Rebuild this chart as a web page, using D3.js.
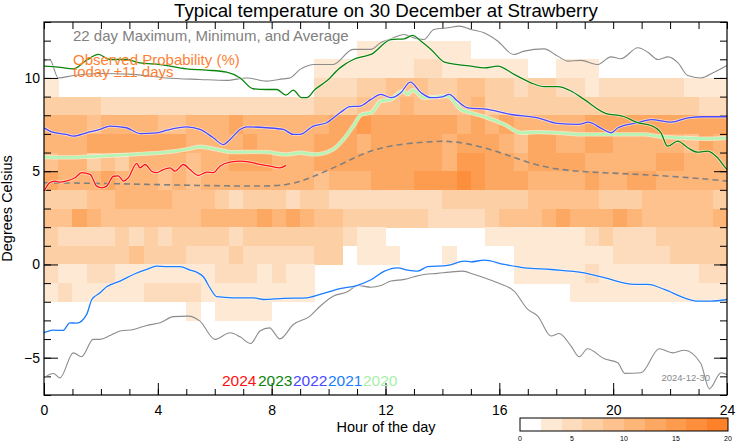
<!DOCTYPE html>
<html>
<head>
<meta charset="utf-8">
<script src="https://cdnjs.cloudflare.com/ajax/libs/d3/7.8.5/d3.min.js"></script>
<style>
  body { margin: 0; background: #fff; }
  text { font-family: "Liberation Sans", Arial, Helvetica, sans-serif; }
</style>
</head>
<body>
<div class="canvas"></div>
<script>
// observed probability, one string per 1-degree bin (bottom of bin), one char per half hour
// each char is the 2% band index (0 = under 2%, 9 = 18-20%)
const probBins = [11, 10, 9, 8, 7, 6, 5, 4, 3, 2, 1, 0, -1, -2, -3];
const probBands = [
    "000000000000000000000011111111000000000000000000",
    "000000000000000000011111112211111100111000000000",
    "100000000000000000022233444334433233221222222111",
    "333322222222222222233344454444533333333333333322",
    "555455554455565555556676666665656555556666666666",
    "555666666655556555566656666656665466556655555465",
    "455343555545566655566666666657766566665555566555",
    "655565554545555555545556667778766655556556655555",
    "333445555444323332332222222233333344444333444443",
    "446544444445555656544333333222234445655565444445",
    "322223232333323333333211000000011111112322233333",
    "333333433322232222233011100010000111111122223333",
    "211221111111222121100000000000000111112111111122",
    "121111122221111111100000000000000000011111111111",
    "000000000010111100000000000000000000000000000000"
];
const legendTicks = [0, 5, 10, 15, 20];

// 22 day maximum, minimum, average  [hour, degrees]
const max22 = [[0, 10.9], [0.2, 11.0], [0.5, 10.0], [1.03, 10.13], [1.97, 10.24], [3.13, 10.19], [4.3, 10.0],
    [5.48, 9.92], [6.42, 9.87], [7.12, 10.0], [7.82, 9.83], [8.4, 9.95], [8.64, 10.0], [9.0, 10.46], [9.52, 10.72],
    [10.16, 10.72], [10.86, 11.53], [11.49, 11.53], [11.84, 11.9], [12.2, 12.1], [12.65, 12.33], [13.0, 12.15],
    [13.35, 12.06], [13.7, 12.6], [14.2, 12.69], [14.6, 12.78], [15.0, 12.6], [15.46, 12.42], [15.95, 11.97],
    [16.5, 11.26], [16.87, 11.44], [17.57, 11.56], [18.05, 11.17], [18.41, 10.9], [18.87, 10.94], [19.46, 10.72],
    [19.92, 11.13], [20.27, 11.03], [20.87, 11.62], [21.22, 11.38], [21.57, 10.99], [21.93, 11.13], [22.28, 10.81],
    [22.62, 10.13], [23.08, 10.0], [23.55, 10.31], [24, 10.67]];
const min22 = [[0, -6.08], [0.33, -5.85], [0.56, -6.08], [1.03, -4.74], [1.32, -4.95], [1.73, -4.02], [1.97, -4.02],
    [2.32, -3.81], [2.67, -3.57], [3.14, -3.49], [3.61, -3.27], [4.08, -3.13], [4.54, -2.8], [5.07, -2.77],
    [5.48, -3.04], [6.01, -4.02], [6.54, -3.66], [6.89, -3.88], [7.26, -4.24], [7.59, -3.57], [7.92, -3.4],
    [8.29, -3.99], [8.76, -3.22], [9.35, -2.77], [9.7, -2.24], [10.16, -1.7], [10.64, -1.48], [11.04, -1.13],
    [11.49, -1.22], [11.84, -1.13], [12.19, -0.89], [12.66, -0.8], [13.0, -0.66], [13.36, -0.54], [13.83, -0.48],
    [14.24, -0.41], [14.71, -0.36], [15.12, -0.54], [15.47, -0.71], [15.94, -0.98], [16.52, -1.43], [17.0, -2.41],
    [17.35, -2.77], [17.82, -3.84], [18.1, -3.7], [18.52, -4.38], [18.81, -4.95], [19.1, -4.52], [19.69, -5.06],
    [20.16, -5.27], [20.41, -5.84], [20.98, -5.81], [21.62, -4.52], [22.09, -4.74], [22.5, -4.6], [23.08, -5.31],
    [23.38, -6.67], [23.79, -5.81], [24, -5.9]];
const avg22 = [[0, 4.38], [2, 4.35], [4, 4.28], [6, 4.22], [7.2, 4.2], [8.6, 4.2], [9.5, 4.73], [10.5, 5.4],
    [11.49, 6.17], [12.65, 6.49], [13.83, 6.61], [14.4, 6.61], [15.35, 6.34], [16.4, 5.81], [17.35, 5.27],
    [18.52, 5.0], [19.69, 4.92], [20.86, 4.83], [22.03, 4.73], [23.2, 4.59], [24, 4.47]];

// individual years
const years = ["2024", "2023", "2022", "2021", "2020"];
const yearColors = ["#ff1010", "#0a840a", "#4848ff", "#1a7cff", "#b4f5b4"];
const y2024 = [[0, 3.93], [0.2, 4.38], [0.37, 4.47], [0.56, 4.41], [0.78, 4.47], [1.09, 4.65], [1.32, 4.92],
    [1.62, 4.83], [1.85, 4.2], [2.03, 4.11], [2.2, 4.2], [2.44, 4.73], [2.61, 4.75], [2.79, 4.47], [2.96, 4.65],
    [3.26, 5.42], [3.37, 5.18], [3.55, 5.36], [3.78, 5.0], [3.96, 4.92], [4.19, 5.09], [4.43, 5.18], [4.6, 5.0],
    [4.9, 5.36], [5.13, 5.09], [5.42, 4.77], [5.72, 4.95], [5.95, 4.92], [6.18, 5.27], [6.54, 5.49], [6.89, 5.54],
    [7.24, 5.49], [7.59, 5.36], [7.94, 5.27], [8.29, 5.18], [8.5, 5.31]];
const y2023 = [[0, 10.63], [0.5, 10.58], [1.03, 10.49], [1.5, 10.96], [1.91, 11.26], [2.32, 10.99], [2.9, 10.99],
    [3.37, 10.81], [4.08, 10.72], [5.01, 10.49], [5.72, 10.42], [6.42, 10.31], [6.89, 10.0], [7.35, 9.42],
    [7.82, 9.38], [8.18, 9.38], [8.5, 9.08], [8.76, 9.35], [9.05, 8.94], [9.23, 8.94], [9.52, 9.38], [9.93, 9.83],
    [10.4, 10.54], [10.87, 10.99], [11.16, 11.13], [11.49, 11.26], [12.19, 12.06], [12.66, 12.1], [12.95, 12.28],
    [13.25, 11.97], [13.6, 11.53], [14.07, 10.85], [14.54, 10.72], [15.0, 10.63], [15.47, 10.54], [15.94, 10.63],
    [16.52, 10.19], [17.11, 9.74], [17.58, 9.53], [18.05, 9.53], [18.52, 9.3], [18.98, 8.85], [19.69, 8.13],
    [20.39, 7.92], [20.86, 7.6], [21.33, 7.45], [21.68, 7.06], [21.91, 6.34], [22.27, 6.61], [22.62, 6.26],
    [22.97, 6.02], [23.32, 6.08], [23.67, 5.72], [23.9, 5.27], [24, 5.09]];
const y2022 = [[0, 7.33], [0.3, 7.09], [0.78, 6.97], [1.03, 6.88], [1.5, 7.06], [1.97, 7.24], [2.32, 7.42],
    [2.9, 7.33], [3.37, 7.02], [3.96, 7.06], [4.31, 7.2], [5.01, 7.38], [5.48, 7.24], [5.95, 6.79], [6.3, 6.43],
    [6.54, 6.7], [6.89, 7.24], [7.12, 7.38], [7.82, 7.33], [8.41, 7.24], [8.76, 6.97], [8.99, 6.97], [9.46, 7.42],
    [9.93, 7.6], [10.4, 8.13], [10.75, 8.46], [11.1, 8.49], [11.49, 8.85], [11.84, 9.12], [12.19, 8.94],
    [12.54, 9.21], [12.87, 9.78], [13.25, 9.21], [13.6, 8.94], [14.0, 8.99], [14.24, 9.12], [14.53, 8.76],
    [14.89, 8.4], [15.59, 8.31], [16.41, 8.04], [17.35, 7.86], [18.05, 7.56], [18.77, 7.51], [19.13, 7.63],
    [19.6, 7.28], [19.93, 7.06], [20.17, 7.33], [20.87, 7.6], [21.34, 7.77], [22.04, 7.63], [22.63, 7.86],
    [23.21, 7.92], [24, 7.92]];
const y2021 = [[0, -3.66], [0.32, -3.52], [0.67, -3.54], [0.91, -3.13], [1.15, -3.15], [1.5, -2.68], [1.68, -1.88],
    [1.97, -1.52], [2.2, -1.2], [2.67, -0.89], [3.14, -0.54], [3.61, -0.27], [3.96, -0.09], [4.31, -0.12],
    [4.78, -0.12], [5.13, -0.3], [5.36, -0.41], [5.6, -0.66], [5.83, -1.25], [6.07, -1.73], [6.65, -1.79],
    [7.35, -1.79], [7.71, -1.88], [8.41, -1.82], [9.23, -1.79], [9.7, -1.61], [10.4, -1.3], [10.99, -1.13],
    [11.49, -0.82], [11.96, -0.36], [12.43, -0.18], [12.78, -0.3], [13.13, -0.36], [13.48, -0.12], [14.18, -0.05],
    [14.77, 0.18], [15.0, 0.14], [15.47, 0.23], [16.17, 0.0], [16.88, -0.18], [17.82, -0.27], [18.98, -0.45],
    [19.69, -0.71], [20.74, -1.07], [21.22, -1.07], [21.8, -1.34], [22.5, -1.79], [22.97, -1.97], [23.44, -1.97],
    [24, -1.88]];
const y2020 = [[0, 5.75], [0.78, 5.74], [1.97, 5.81], [3.14, 5.9], [4.31, 6.02], [5.01, 6.17], [5.48, 6.31],
    [6.07, 6.17], [6.65, 6.02], [7.35, 6.04], [7.82, 6.02], [8.53, 5.9], [9.0, 5.99], [9.52, 5.9], [10.16, 6.17],
    [10.52, 6.7], [10.87, 7.42], [11.16, 8.04], [11.49, 8.13], [11.84, 8.76], [12.19, 8.85], [12.6, 9.29],
    [12.78, 9.12], [12.95, 9.35], [13.36, 8.94], [13.83, 8.99], [14.18, 9.03], [14.65, 8.31], [15.0, 8.13],
    [15.59, 7.86], [16.17, 7.51], [16.76, 7.06], [17.35, 7.09], [18.05, 7.06], [18.98, 6.97], [20.17, 6.97],
    [21.09, 6.97], [21.68, 6.85], [22.5, 6.79], [23.21, 6.74], [24, 6.79]];
const yearSeries = [y2024, y2023, y2022, y2021, y2020];

const width = 742, height = 445;
const margin = { left: 44, right: 15, top: 22, bottom: 50 };
const plot = { width: width - margin.left - margin.right, height: height - margin.top - margin.bottom };

const svg = d3.select(".canvas").append("svg")
    .attr("width", width)
    .attr("height", height);

const x = d3.scaleLinear().domain([0, 24]).range([margin.left, margin.left + plot.width]);
const y = d3.scaleLinear().domain([-7, 13]).range([margin.top + plot.height, margin.top]);

const bandColors = ["#ffffff", "#fee9d4", "#fddcbd", "#fdcfa5", "#fdc28e", "#fdb578", "#fda862", "#fd9b4e", "#fd8e3b", "#fd8128"];
const color = d3.scaleThreshold().domain(d3.range(2, 20, 2)).range(bandColors);

// heat cells
const cells = [];
probBands.forEach((row, r) => {
    row.split("").forEach((c, i) => {
        const p = +c * 2 + 1;
        if (+c > 0) cells.push({ hour: i * 0.5, bin: probBins[r], p: p });
    });
});
svg.append("g").selectAll("rect").data(cells).enter().append("rect")
    .attr("x", d => x(d.hour))
    .attr("y", d => y(d.bin + 1))
    .attr("width", d => x(d.hour + 0.5) - x(d.hour) + 0.5)
    .attr("height", d => y(d.bin) - y(d.bin + 1) + 0.5)
    .attr("fill", d => color(d.p))
    .attr("shape-rendering", "crispEdges");

// axes
const axisStyle = (g) => {
    g.select(".domain").remove();
    g.selectAll("line").attr("stroke", "#000");
    g.selectAll("text").attr("font-size", 14).attr("fill", "#000");
};
const yb = margin.top + plot.height, xr = margin.left + plot.width;
svg.append("g").attr("transform", `translate(0,${yb})`)
    .call(d3.axisBottom(x).tickValues(d3.range(0, 25, 1)).tickSize(-6).tickFormat("")).call(axisStyle);
svg.append("g").attr("transform", `translate(0,${yb})`)
    .call(d3.axisBottom(x).tickValues(d3.range(0, 25, 4)).tickSize(-12).tickPadding(10).tickFormat(d3.format("d"))).call(axisStyle);
svg.append("g").attr("transform", `translate(0,${margin.top})`)
    .call(d3.axisTop(x).tickValues(d3.range(0, 25, 1)).tickSize(-7).tickFormat("")).call(axisStyle);
svg.append("g").attr("transform", `translate(${margin.left},0)`)
    .call(d3.axisLeft(y).tickValues(d3.range(-7, 14, 1)).tickSize(-7).tickFormat("")).call(axisStyle);
svg.append("g").attr("transform", `translate(${margin.left},0)`)
    .call(d3.axisLeft(y).tickValues([-5, 0, 5, 10]).tickSize(-14).tickPadding(4).tickFormat(d => d < 0 ? "\u2212" + (-d) : d)).call(axisStyle);
svg.append("g").attr("transform", `translate(${xr},0)`)
    .call(d3.axisRight(y).tickValues(d3.range(-7, 14, 1)).tickSize(-7).tickFormat("")).call(axisStyle);
svg.append("g").attr("transform", `translate(${xr},0)`)
    .call(d3.axisRight(y).tickValues([-5, 0, 5, 10]).tickSize(-13).tickFormat("")).call(axisStyle);

// gray envelope
const line = d3.line().x(d => x(d[0])).y(d => y(d[1])).curve(d3.curveMonotoneX);
[max22, min22].forEach(s => {
    svg.append("path").datum(s).attr("d", line)
        .attr("fill", "none").attr("stroke", "#8c8c8c").attr("stroke-width", 1.1);
});
svg.append("path").datum(avg22).attr("d", d3.line().x(d => x(d[0])).y(d => y(d[1])).curve(d3.curveBasis))
    .attr("fill", "none").attr("stroke", "#808080").attr("stroke-width", 1.6).attr("stroke-dasharray", "6,4");

// years, 2020 at bottom
yearSeries.slice().reverse().forEach((s, k) => {
    const i = yearSeries.length - 1 - k;
    const w = years[i] === "2020" ? 2.8 : 1.3;
    svg.append("path").datum(s).attr("d", line)
        .attr("fill", "none").attr("stroke", "#fff").attr("stroke-opacity", 0.6).attr("stroke-width", w + 1.5);
    svg.append("path").datum(s).attr("d", line)
        .attr("fill", "none").attr("stroke", yearColors[i]).attr("stroke-width", w);
});

// frame
svg.append("rect").attr("x", margin.left).attr("y", margin.top)
    .attr("width", plot.width).attr("height", plot.height)
    .attr("fill", "none").attr("stroke", "#000").attr("stroke-width", 1.2);

// texts
svg.append("text").attr("x", 386).attr("y", 17).attr("text-anchor", "middle")
    .attr("font-size", 18.7).text("Typical temperature on 30 December at Strawberry");
svg.append("text").attr("x", 73).attr("y", 41).attr("font-size", 15).attr("fill", "#808080")
    .text("22 day Maximum, Minimum, and Average");
svg.append("text").attr("x", 73).attr("y", 65).attr("font-size", 15).attr("fill", "#ff7f32")
    .text("Observed Probability (%)");
svg.append("text").attr("x", 73).attr("y", 77).attr("font-size", 15).attr("fill", "#ff7f32")
    .text("today \u00b111 days");
svg.append("text").attr("x", 386).attr("y", 432).attr("text-anchor", "middle").attr("font-size", 14.5)
    .text("Hour of the day");
svg.append("text").attr("transform", `translate(12,${margin.top + plot.height / 2}) rotate(-90)`)
    .attr("text-anchor", "middle").attr("font-size", 14.5).text("Degrees Celsius");
svg.append("text").attr("x", 710).attr("y", 381).attr("text-anchor", "end").attr("font-size", 9.5)
    .attr("fill", "#888").text("2024-12-30");

const legendX = [222, 258, 293, 328, 363];
years.forEach((yr, i) => {
    svg.append("text").attr("x", legendX[i]).attr("y", 386).attr("font-size", 15.5)
        .attr("fill", yearColors[i] === "#b4f5b4" ? "#a8f0a8" : yearColors[i]).text(yr);
});

// colour bar
const cb = d3.scaleLinear().domain([0, 20]).range([520, 728]);
svg.append("g").selectAll("rect").data(d3.range(0, 20, 2)).enter().append("rect")
    .attr("x", d => cb(d)).attr("y", 418).attr("width", cb(2) - cb(0) + 0.3).attr("height", 13)
    .attr("fill", d => color(d + 1)).attr("shape-rendering", "crispEdges");
svg.append("rect").attr("x", 520).attr("y", 418).attr("width", 208).attr("height", 13)
    .attr("fill", "none").attr("stroke", "#000");
svg.append("g").selectAll("text").data(legendTicks).enter().append("text")
    .attr("x", d => cb(d)).attr("y", 441).attr("text-anchor", "middle").attr("font-size", 7).text(d => d);
</script>
</body>
</html>
